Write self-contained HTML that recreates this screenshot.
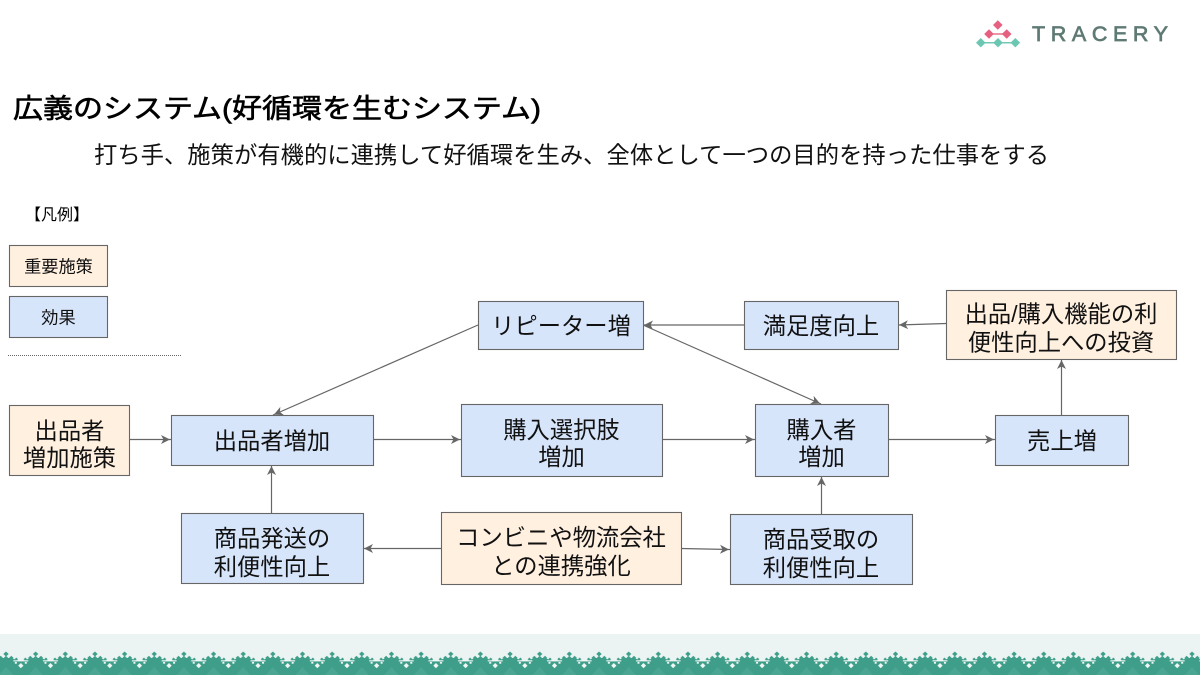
<!DOCTYPE html>
<html lang="ja">
<head>
<meta charset="utf-8">
<style>
html,body{margin:0;padding:0;background:#fff;}
body{width:1200px;height:675px;overflow:hidden;}
svg{display:block;}
text{font-family:"Liberation Sans","Noto Sans CJK JP",sans-serif;fill:#000;}
.t{font-size:23.3px;text-anchor:middle;fill:#111;}
.b{fill:#d7e5fb;stroke:#666;stroke-width:1.1;}
.o{fill:#fff0e0;stroke:#666;stroke-width:1.1;}
.l{stroke:#666;stroke-width:1.2;fill:none;}
</style>
</head>
<body>
<svg width="1200" height="675" viewBox="0 0 1200 675" xmlns="http://www.w3.org/2000/svg">
<defs>
<marker id="m" markerWidth="12" markerHeight="12" refX="10.5" refY="5" orient="auto" markerUnits="userSpaceOnUse"><path d="M0.500 0.500L9.500 5L0.500 9.500L3 5Z" fill="#666"/></marker>
<pattern id="foot" x="-8.825" y="650" width="29.65" height="25" patternUnits="userSpaceOnUse">
<rect x="0" y="0" width="29.65" height="25" fill="#ebf4f2"/>
<path d="M0 11L5 10L9 8H20.650L24.650 10L29.650 11V25H0Z" fill="#3f9e8a"/>
<g fill="#3f9e8a">
<path d="M14.825 1.500L17.500 4L14.825 6.500L12.150 4Z"/>
<path d="M9.500 5.700L11.700 7.900L9.500 10.100L7.300 7.900Z"/>
<path d="M14.825 5.700L17 7.900L14.825 10.100L12.650 7.900Z"/>
<path d="M20.150 5.700L22.350 7.900L20.150 10.100L17.950 7.900Z"/>
<path d="M4.500 7.500L6.200 9.200L4.500 10.900L2.800 9.200Z"/>
<path d="M25.150 7.500L26.850 9.200L25.150 10.900L23.450 9.200Z"/>
</g>
<g fill="#f2f8f6">
<rect x="0" y="10.300" width="7.500" height="1.100"/>
<rect x="22.150" y="10.300" width="7.500" height="1.100"/>
<path d="M0 13L2.600 15.600L0 18.200Z"/>
<path d="M29.650 13L27.050 15.600L29.650 18.200Z"/>
<rect x="4" y="11.900" width="2" height="1.800"/>
<rect x="23.650" y="11.900" width="2" height="1.800"/>
</g>
<path d="M14.825 17L22 25H7.650Z" fill="#4aa592"/>
</pattern>
</defs>

<!-- footer -->
<rect x="0" y="634" width="1200" height="16" fill="#ebf4f2"/>
<rect x="0" y="650" width="1200" height="25" fill="url(#foot)"/>

<!-- logo -->
<g>
<path d="M989 34H1007" stroke="#e8708a" stroke-width="1.500"/>
<path d="M981 42.700H1015" stroke="#74c9b5" stroke-width="1.500"/>
<g fill="#e6607f">
<path d="M997.800 20.300L1002.600 25L997.800 29.700L993 25Z"/>
<path d="M989 29.300L993.800 34L989 38.700L984.200 34Z"/>
<path d="M1006.700 29.300L1011.500 34L1006.700 38.700L1001.900 34Z"/>
</g>
<g fill="#6cc7b2">
<path d="M980.800 38L985.600 42.700L980.800 47.400L976 42.700Z"/>
<path d="M998 38L1002.800 42.700L998 47.400L993.200 42.700Z"/>
<path d="M1015.300 38L1020.100 42.700L1015.300 47.400L1010.500 42.700Z"/>
</g>
<text x="1032" y="41" style="font-size:21.5px;fill:#5f7a74;stroke:#5f7a74;stroke-width:.7px" textLength="136" lengthAdjust="spacing">TRACERY</text>
</g>

<!-- titles -->
<text x="13" y="118" style="font-size:27px;stroke:#000;stroke-width:.6px" textLength="528" lengthAdjust="spacingAndGlyphs">広義のシステム(好循環を生むシステム)</text>
<text x="94" y="163" style="font-size:23.3px;fill:#111" textLength="955" lengthAdjust="spacing">打ち手、施策が有機的に連携して好循環を生み、全体として一つの目的を持った仕事をする</text>

<!-- legend -->
<text x="25" y="220" style="font-size:16px">【凡例】</text>
<rect x="9.500" y="245.500" width="98" height="41" class="o"/>
<text x="58.500" y="272.500" style="font-size:17.200px;text-anchor:middle;fill:#111">重要施策</text>
<rect x="9.500" y="296.500" width="98" height="41" class="b"/>
<text x="58.500" y="323.500" style="font-size:17.200px;text-anchor:middle;fill:#111">効果</text>
<path d="M8 355.500H181" stroke="#666" stroke-width="1" stroke-dasharray="1 1"/>

<!-- connectors -->
<g class="l">
<path d="M130 439.500H171" marker-end="url(#m)"/>
<path d="M373 439.500H461" marker-end="url(#m)"/>
<path d="M662 439.500H755" marker-end="url(#m)"/>
<path d="M888 439.500H995" marker-end="url(#m)"/>
<path d="M1061.500 415V359" marker-end="url(#m)"/>
<path d="M946 323.500L898 325" marker-end="url(#m)"/>
<path d="M744 325H643" marker-end="url(#m)"/>
<path d="M478 325L273 415" marker-end="url(#m)"/>
<path d="M643 325L821 404" marker-end="url(#m)"/>
<path d="M271.500 513V465" marker-end="url(#m)"/>
<path d="M821.500 514V476" marker-end="url(#m)"/>
<path d="M441 548.500H363" marker-end="url(#m)"/>
<path d="M681 548.500L730 549.500" marker-end="url(#m)"/>
</g>

<!-- boxes -->
<rect x="9.500" y="405.500" width="120" height="70" class="o"/>
<text class="t" x="69.500" y="439">出品者</text>
<text class="t" x="69.500" y="466">増加施策</text>

<rect x="171.500" y="415.500" width="202" height="50" class="b"/>
<text class="t" x="272" y="449">出品者増加</text>

<rect x="461.500" y="404.500" width="201" height="72" class="b"/>
<text class="t" x="561.500" y="438">購入選択肢</text>
<text class="t" x="561.500" y="465">増加</text>

<rect x="755.500" y="404.500" width="133" height="72" class="b"/>
<text class="t" x="821.500" y="438">購入者</text>
<text class="t" x="821.500" y="465">増加</text>

<rect x="995.500" y="415.500" width="133" height="50" class="b"/>
<text class="t" x="1062" y="449">売上増</text>

<rect x="478.500" y="301.500" width="165" height="48" class="b"/>
<text class="t" x="561" y="334">リピーター増</text>

<rect x="744.500" y="301.500" width="154" height="48" class="b"/>
<text class="t" x="821" y="334">満足度向上</text>

<rect x="946.500" y="290.500" width="230" height="69" class="o"/>
<text class="t" x="1061" y="322">出品/購入機能の利</text>
<text class="t" x="1061" y="350.500">便性向上への投資</text>

<rect x="181.500" y="513.500" width="182" height="70" class="b"/>
<text class="t" x="272" y="546.500">商品発送の</text>
<text class="t" x="272" y="575">利便性向上</text>

<rect x="441.500" y="512.500" width="240" height="72" class="o"/>
<text class="t" x="561" y="545.500">コンビニや物流会社</text>
<text class="t" x="561" y="574">との連携強化</text>

<rect x="730.500" y="514.500" width="182" height="70" class="b"/>
<text class="t" x="821" y="547.500">商品受取の</text>
<text class="t" x="821" y="576">利便性向上</text>
</svg>
</body>
</html>
